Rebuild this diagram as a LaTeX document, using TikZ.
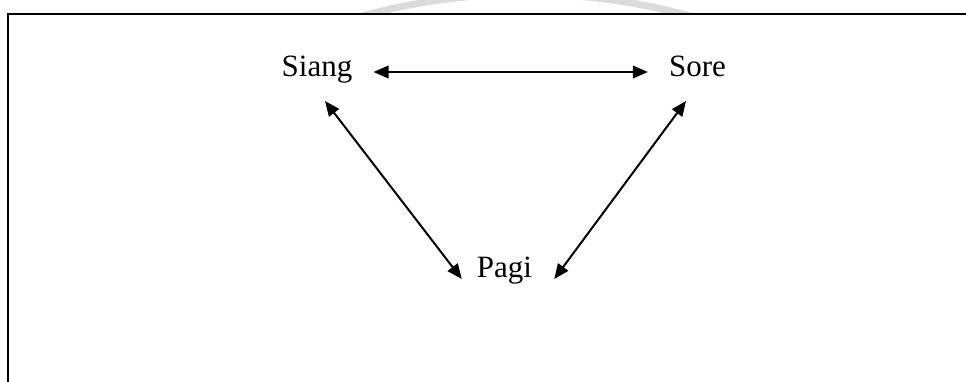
\documentclass[tikz,border=0pt]{standalone}
\usepackage{fontspec}
\setmainfont{Liberation Serif}
\usetikzlibrary{arrows.meta,calc}

\tikzset{
  timelabel/.style={inner sep=0pt, font=\fontsize{31}{37}\selectfont, anchor=base},
  link/.style={line width=2pt, {Triangle[length=15pt,width=12.5pt]}-{Triangle[length=15pt,width=12.5pt]}},
  frameline/.style={line width=2pt, black},
  ringmark/.style={line width=7pt, gray!28}
}

\begin{document}
\begin{tikzpicture}[x=1pt, y=-1pt]
  \useasboundingbox (0,0) rectangle (966,381);

  % faint ring above the frame
  \begin{scope}
    \clip (0,0) rectangle (966,12.5);
    \draw[ringmark] (526,609) circle[radius=615pt];
  \end{scope}

  % open frame: left and top edges
  \draw[frameline] (8.3,390) -- (8.3,13.7) -- (975,13.7);

  % the three times of day
  \node[timelabel] (siang) at (317,76)   {Siang};
  \node[timelabel] (sore)  at (697.5,76) {Sore};
  \node[timelabel] (pagi)  at (504.5,277) {Pagi};

  % two-way links between them
  \draw[link] ($(siang.base east)+(21,-4)$) -- ($(sore.base west)+(-21,-4)$);
  \draw[link] ($(siang.base)+(8,25)$) -- ($(pagi.base west)+(-15,2)$);
  \draw[link] ($(sore.base)+(-11.5,25)$) -- ($(pagi.base east)+(22,2)$);
\end{tikzpicture}
\end{document}
